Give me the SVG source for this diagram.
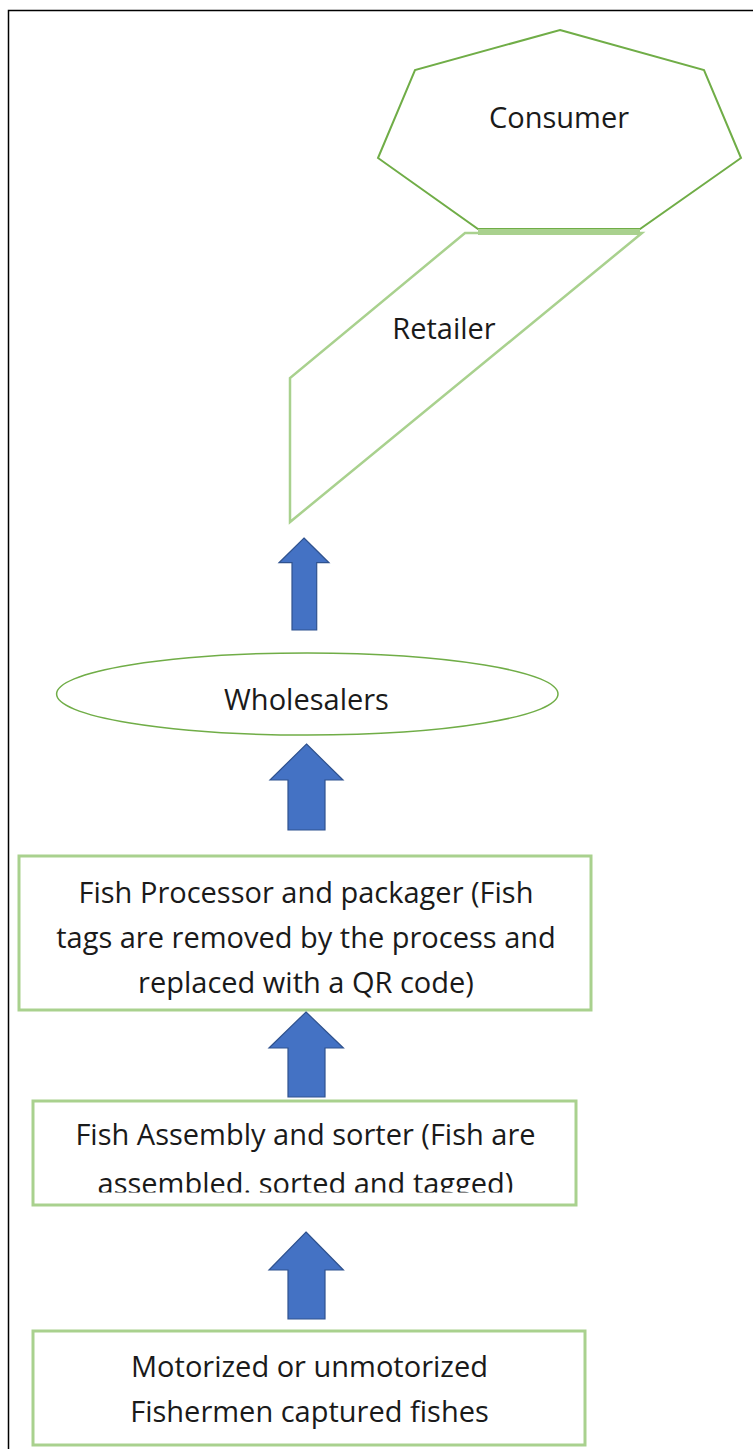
<svg xmlns="http://www.w3.org/2000/svg" width="753" height="1449" viewBox="0 0 753 1449">
<style>
.t{font-family:"Open Sans","Liberation Sans",sans-serif;font-size:29px;fill:#1a1a1a;text-anchor:middle}
.box{fill:#fff;stroke:#a9d18e;stroke-width:3}
.arr{fill:#4472c4;stroke:#2f528f;stroke-width:1.2;stroke-linejoin:miter}
</style>
<defs>
<clipPath id="clip2"><rect x="33" y="1101" width="543" height="91.5"/></clipPath>
</defs>
<rect width="753" height="1449" fill="#fff"/>
<g id="frame"><path d="M8.5 1449 V10.5 H753" fill="none" stroke="#000" stroke-width="1.5"/></g>

<g id="consumer">
<polygon points="560,30 704,70 741,158 640,229 478,229 378,158 415,70" fill="#fff" stroke="#70ad47" stroke-width="2"/>
<text class="t" x="559" y="128">Consumer</text>
</g>

<g id="retailer">
<polygon points="465,233 642,233 290,522 290,378" fill="#fff" stroke="#a9d18e" stroke-width="2.5"/>
<rect x="478" y="229" width="162" height="6" fill="#a9d18e"/>
<text class="t" x="444" y="339">Retailer</text>
</g>

<g id="wholesalers">
<ellipse cx="307.3" cy="694" rx="250.7" ry="41" fill="#fff" stroke="#70ad47" stroke-width="1.5"/>
<text class="t" x="306.5" y="710">Wholesalers</text>
</g>

<g id="processor">
<rect class="box" x="19" y="856" width="572" height="154"/>
<text class="t" x="306" y="903">Fish Processor and packager (Fish</text>
<text class="t" x="306" y="948">tags are removed by the process and</text>
<text class="t" x="306" y="993">replaced with a QR code)</text>
</g>

<g id="assembly">
<rect class="box" x="33" y="1101" width="543" height="104"/>
<text class="t" x="305.5" y="1145">Fish Assembly and sorter (Fish are</text>
<text class="t" x="305.5" y="1194" clip-path="url(#clip2)">assembled. sorted and tagged)</text>
</g>

<g id="fishermen">
<rect class="box" x="33" y="1331" width="552" height="114"/>
<text class="t" x="309.5" y="1377">Motorized or unmotorized</text>
<text class="t" x="309.5" y="1422">Fishermen captured fishes</text>
</g>

<g id="connectors">
<polygon class="arr" points="304,538 329,562.7 316.7,562.7 316.7,630 292,630 292,562.7 279,562.7"/>
<polygon class="arr" points="306.5,744 343,780 325,780 325,830 288,830 288,780 270,780"/>
<polygon class="arr" points="306,1012 343.4,1048 325,1048 325,1097 288,1097 288,1048 269,1048"/>
<polygon class="arr" points="306,1232 343.4,1270 325,1270 325,1319 288,1319 288,1270 269,1270"/>
</g>
</svg>
